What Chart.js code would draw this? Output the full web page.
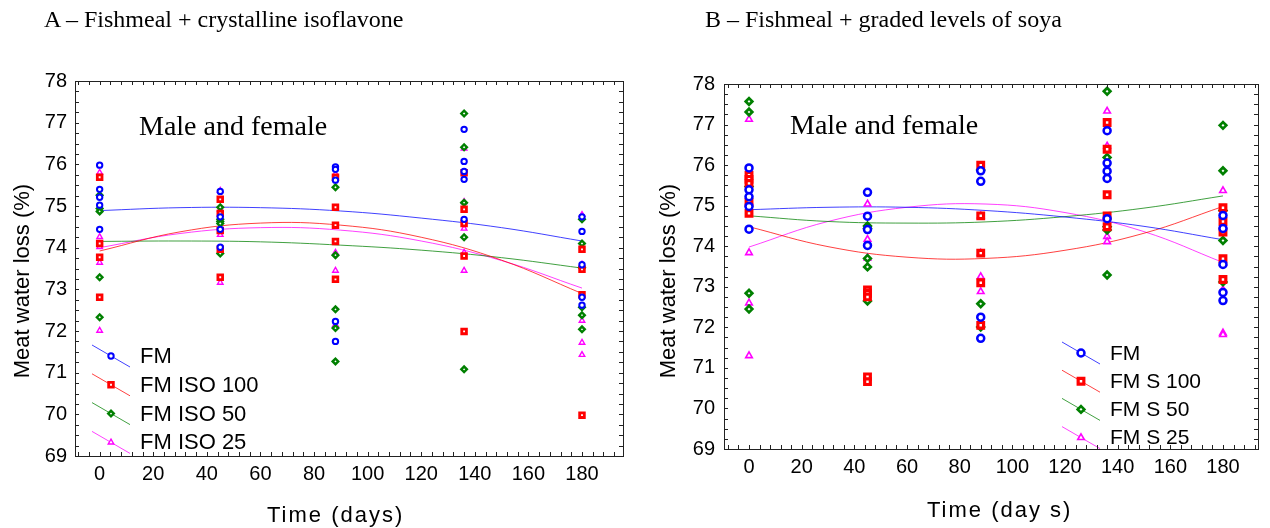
<!DOCTYPE html>
<html>
<head>
<meta charset="utf-8">
<script src="https://cdn.jsdelivr.net/npm/chart.js@4.4.1/dist/chart.umd.min.js"></script>
<style>
  body { margin: 0; background: #fff; width: 1270px; height: 528px; overflow: hidden; position: relative; }
  .painel { position: absolute; top: 0; height: 528px; }
  .texto { position: absolute; font-family: "Liberation Serif", "Times New Roman", serif; color: #000; white-space: nowrap; line-height: 1; z-index: 2; }
  .eixo { position: absolute; font-family: "Liberation Sans", Arial, sans-serif; font-size: 22px; color: #000; white-space: nowrap; line-height: 24px; height: 24px; z-index: 2; }
  .eixoY { width: 300px; text-align: center; transform: rotate(-90deg); }
</style>
</head>
<body>
<div class="texto" style="left:44px; top:7px; font-size:24px;">A – Fishmeal + crystalline isoflavone</div>
<div class="texto" style="left:705px; top:7px; font-size:24px;">B – Fishmeal + graded levels of soya</div>
<div class="texto" style="left:139px; top:112px; font-size:28px;">Male and female</div>
<div class="texto" style="left:790px; top:111px; font-size:28px;">Male and female</div>

<div class="eixo eixoY" style="left:-128px; top:269px;">Meat water loss (%)</div>
<div class="eixo eixoY" style="left:518px; top:269px;">Meat water loss (%)</div>
<div class="eixo" style="left:267px; top:503px; letter-spacing:2px;">Time (days)</div>
<div class="eixo" style="left:927px; top:498px; letter-spacing:2px;">Time (day s)</div>

<div class="painel" style="left:0; width:640px;"><canvas id="graficoA"></canvas></div>
<div class="painel" style="left:640px; width:630px;"><canvas id="graficoB"></canvas></div>

<script>
// dias de coleta e eixos
var dias = [0, 45, 88, 136, 180];
var diasAjuste = [0, 30, 60, 90, 120, 150, 180];
var ticksX = [0, 20, 40, 60, 80, 100, 120, 140, 160, 180];
var ticksY = [69, 70, 71, 72, 73, 74, 75, 76, 77, 78];

var nomesA = ["FM", "FM ISO 100", "FM ISO 50", "FM ISO 25"];
var nomesB = ["FM", "FM S 100", "FM S 50", "FM S 25"];

// painel A - valores lidos por dia (um array por dia)
var aFM = [
  [75.98, 75.40, 75.21, 75.02, 74.44],
  [75.35, 74.74, 74.44, 74.01],
  [75.94, 75.88, 75.62, 72.23, 71.75],
  [76.84, 76.07, 75.83, 75.64, 74.68],
  [74.74, 74.39, 73.59, 72.81, 72.62]
];
var aISO100 = [
  [75.69, 74.10, 73.77, 72.81],
  [75.16, 74.82, 74.41, 73.96, 73.29],
  [75.69, 74.97, 74.54, 74.15, 73.24],
  [75.80, 74.92, 74.58, 73.80, 71.99],
  [73.96, 73.48, 72.87, 69.98]
];
var aISO50 = [
  [75.26, 74.94, 74.87, 73.29, 72.33],
  [74.97, 74.68, 74.63, 74.58, 73.86],
  [75.45, 73.82, 72.52, 72.07, 71.27],
  [77.22, 76.41, 75.08, 74.25, 71.08],
  [74.68, 74.10, 73.52, 72.57, 72.38, 72.04]
];
var aISO25 = [
  [75.80, 74.26, 74.02, 73.64, 72.01],
  [75.37, 74.92, 74.31, 73.16],
  [75.77, 73.88, 73.45, 72.15],
  [76.38, 75.10, 74.46, 73.88, 73.45],
  [74.79, 73.60, 72.25, 71.72, 71.43]
];
// curvas de tendência do painel A
var aAjusteFM = [74.89, 74.96, 74.96, 74.88, 74.71, 74.48, 74.16];
var aAjuste100 = [73.92, 74.38, 74.59, 74.54, 74.25, 73.70, 72.90];
var aAjuste50 = [74.15, 74.16, 74.14, 74.06, 73.94, 73.76, 73.51];
var aAjuste25 = [74.00, 74.34, 74.48, 74.42, 74.16, 73.69, 73.03];

// painel B
var bFM = [
  [75.93, 75.39, 75.22, 74.98, 74.42],
  [75.33, 74.74, 74.41, 74.02],
  [75.86, 75.60, 72.25, 71.73],
  [76.85, 76.05, 75.85, 75.67, 74.68],
  [74.76, 74.44, 73.55, 72.86, 72.66]
];
var bS100 = [
  [75.75, 75.65, 75.55, 75.08, 74.81],
  [72.92, 72.84, 72.75, 70.78, 70.66],
  [76.00, 74.75, 73.83, 73.10, 72.05],
  [77.05, 76.39, 75.27, 74.75, 74.48],
  [74.95, 74.61, 74.35, 73.69, 73.18]
];
var bS50 = [
  [77.57, 77.31, 75.47, 72.84, 72.45],
  [74.50, 74.44, 73.70, 73.49, 72.65],
  [75.88, 72.58, 72.01],
  [77.82, 76.19, 74.48, 74.40, 73.29],
  [76.98, 75.86, 74.88, 74.14, 73.12]
];
var bS25 = [
  [77.13, 75.10, 73.84, 72.60, 71.30],
  [75.04, 74.17, 73.71],
  [75.90, 74.75, 73.83, 73.25, 72.88],
  [77.33, 76.47, 75.75, 74.24, 74.11],
  [75.37, 73.58, 72.93, 71.86, 71.82]
];
var bAjusteFM = [74.90, 74.96, 74.96, 74.88, 74.72, 74.49, 74.16];
var bAjuste100 = [74.48, 73.99, 73.73, 73.70, 73.90, 74.32, 74.98];
var bAjuste50 = [74.75, 74.61, 74.57, 74.60, 74.73, 74.94, 75.24];
var bAjuste25 = [73.98, 74.61, 74.96, 75.04, 74.83, 74.36, 73.60];

var fonte = '"Liberation Sans", Arial, sans-serif';
var cores = ["#0000ff", "#ff0000", "#008000", "#ff00ff"];
var coresLinha = ["rgba(0,0,255,0.75)", "rgba(255,0,0,0.75)", "rgba(0,128,0,0.75)", "rgba(255,0,255,0.75)"];
var estilos = ["circle", "rect", "rectRot", "triangle"];

// transforma a tabela por dia em pontos x/y
function pontos(tabela) {
  var lista = [];
  for (var i = 0; i < tabela.length; i++) {
    for (var j = 0; j < tabela[i].length; j++) {
      lista.push({ x: dias[i], y: tabela[i][j] });
    }
  }
  return lista;
}

function curva(valores) {
  return valores.map(function(v, i) { return { x: diasAjuste[i], y: v }; });
}

// monta os datasets de um painel
function montarDatasets(series, ajustes, raios, bordas) {
  var ds = [];
  for (var i = 0; i < series.length; i++) {
    ds.push({
      type: "scatter",
      data: pontos(series[i]),
      pointStyle: estilos[i],
      pointRadius: raios[i],
      pointBorderWidth: bordas[i],
      borderColor: cores[i],
      backgroundColor: "#ffffff",
      lineLegenda: coresLinha[i]
    });
  }
  for (var k = 0; k < ajustes.length; k++) {
    ds.push({
      type: "line",
      data: curva(ajustes[k]),
      borderColor: coresLinha[k],
      borderWidth: 1,
      pointRadius: 0,
      tension: 0.4,
      fill: false
    });
  }
  return ds;
}

// moldura com marcas para dentro nos quatro lados
var molduraPlugin = {
  id: "moldura",
  afterDraw: function(chart) {
    var a = chart.chartArea, ctx = chart.ctx;
    var sx = chart.scales.x, sy = chart.scales.y;
    ctx.save();
    ctx.strokeStyle = "#222";
    ctx.lineWidth = 1;
    ctx.strokeRect(Math.round(a.left) + 0.5, Math.round(a.top) + 0.5, Math.round(a.right - a.left), Math.round(a.bottom - a.top));
    ctx.beginPath();
    for (var v = Math.ceil(sx.min / 4) * 4; v <= sx.max; v += 4) {
      var px = Math.round(sx.getPixelForValue(v)) + 0.5;
      ctx.moveTo(px, a.bottom); ctx.lineTo(px, a.bottom - 4);
      ctx.moveTo(px, a.top); ctx.lineTo(px, a.top + 4);
    }
    for (var w = sy.min; w <= sy.max + 0.001; w += 0.25) {
      var py = Math.round(sy.getPixelForValue(w)) + 0.5;
      ctx.moveTo(a.left, py); ctx.lineTo(a.left + 4, py);
      ctx.moveTo(a.right, py); ctx.lineTo(a.right - 4, py);
    }
    ctx.stroke();
    ctx.restore();
  }
};

// legenda com linha inclinada e marcador no meio
var legendaPlugin = {
  id: "legendaManual",
  afterDatasetsDraw: function(chart, args, op) {
    var ctx = chart.ctx;
    ctx.save();
    for (var i = 0; i < op.nomes.length; i++) {
      var ds = chart.data.datasets[i];
      var cy = op.y + i * op.passo;
      ctx.strokeStyle = ds.lineLegenda;
      ctx.lineWidth = 1;
      ctx.beginPath();
      ctx.moveTo(op.x - 19, cy - 11);
      ctx.lineTo(op.x + 19, cy + 11);
      ctx.stroke();
      ctx.strokeStyle = ds.borderColor;
      ctx.fillStyle = "#ffffff";
      ctx.lineWidth = ds.pointBorderWidth;
      Chart.helpers.drawPoint(ctx, { pointStyle: ds.pointStyle, radius: ds.pointRadius, borderWidth: ds.pointBorderWidth, rotation: 0 }, op.x, cy);
      ctx.fillStyle = "#000";
      ctx.font = op.tamanho + "px " + fonte;
      ctx.textBaseline = "middle";
      ctx.textAlign = "left";
      ctx.fillText(op.nomes[i], op.tx, cy + 1);
    }
    ctx.restore();
  }
};

function opcoes(cfg) {
  return {
    responsive: true,
    maintainAspectRatio: false,
    animation: false,
    layout: { padding: { left: 0, top: cfg.topo, right: cfg.direita, bottom: 0 } },
    plugins: {
      legend: { display: false },
      tooltip: { enabled: false },
      legendaManual: cfg.legenda
    },
    scales: {
      x: {
        type: "linear",
        min: cfg.minX,
        max: cfg.maxX,
        afterBuildTicks: function(s) { s.ticks = ticksX.map(function(v) { return { value: v }; }); },
        afterFit: function(s) { s.height = cfg.alturaX; },
        grid: { display: false, drawTicks: false },
        border: { display: false },
        ticks: { color: "#000", font: { family: fonte, size: 20 }, padding: 6, maxRotation: 0, autoSkip: false },
        title: { display: false }
      },
      y: {
        min: 69,
        max: 78,
        afterBuildTicks: function(s) { s.ticks = ticksY.map(function(v) { return { value: v }; }); },
        afterFit: function(s) { s.width = cfg.larguraY; },
        grid: { display: false, drawTicks: false },
        border: { display: false },
        ticks: { color: "#000", font: { family: fonte, size: 20 }, padding: cfg.padTicksY },
        title: { display: false }
      }
    }
  };
}

new Chart(document.getElementById("graficoA"), {
  data: {
    datasets: montarDatasets([aFM, aISO100, aISO50, aISO25], [aAjusteFM, aAjuste100, aAjuste50, aAjuste25],
      [2.7, 3.3, 2.8, 3.2], [2, 2.8, 2.4, 1.4])
  },
  options: opcoes({
    topo: 81, direita: 17, larguraY: 75, alturaX: 72, minX: -9.2, maxX: 195.3, padTicksY: 8,
    legenda: { nomes: nomesA, x: 111, y: 356, passo: 28.8, tx: 140, tamanho: 22 }
  }),
  plugins: [molduraPlugin, legendaPlugin]
});

new Chart(document.getElementById("graficoB"), {
  data: {
    datasets: montarDatasets([bFM, bS100, bS50, bS25], [bAjusteFM, bAjuste100, bAjuste50, bAjuste25],
      [3.5, 4, 3.3, 3.8], [2.5, 3.2, 2.7, 1.6])
  },
  options: opcoes({
    topo: 84, direita: 12, larguraY: 84, alturaX: 79, minX: -9.5, maxX: 193.3, padTicksY: 9,
    legenda: { nomes: nomesB, x: 441, y: 353, passo: 28.2, tx: 470, tamanho: 21 }
  }),
  plugins: [molduraPlugin, legendaPlugin]
});
</script>
</body>
</html>
